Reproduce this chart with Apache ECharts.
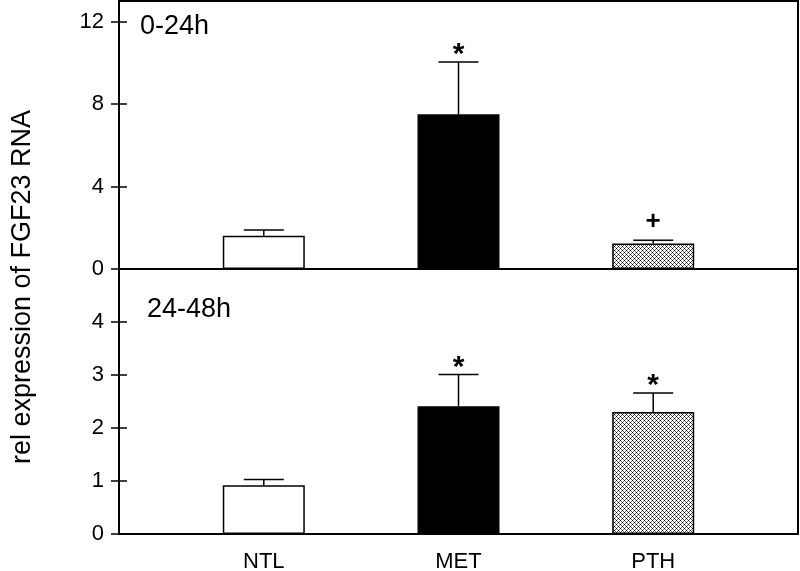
<!DOCTYPE html>
<html><head><meta charset="utf-8">
<script src="https://cdn.jsdelivr.net/npm/echarts@6/dist/echarts.min.js"></script>
<style>html,body{margin:0;padding:0;background:#fff}#c{width:800px;height:571px}</style>
</head><body><div id="c"></div>
<script>
const categories = ['NTL', 'MET', 'PTH'];
const topMeans = [1.61, 7.51, 1.24];
const topUpper = [1.89, 10.04, 1.40];
const topMarks = ['', '*', '+'];
const botMeans = [0.92, 2.41, 2.30];
const botUpper = [1.03, 3.01, 2.66];
const botMarks = ['', '*', '*'];
const topTicks = [0, 4, 8, 12];
const botTicks = [0, 1, 2, 3, 4];
const panelLabels = ['0-24h', '24-48h'];
const yTitle = 'rel expression of FGF23 RNA';

const FONT = 'Liberation Sans';

// cross-hatch pattern (4px period)
const pc = document.createElement('canvas');
pc.width = 4; pc.height = 4;
const g = pc.getContext('2d');
g.fillStyle = '#fff'; g.fillRect(0, 0, 4, 4);
g.fillStyle = '#6a6a6a';
[[1,1],[3,3],[3,1],[1,3]].forEach(p => g.fillRect(p[0], p[1], 1, 1));
g.fillStyle = '#000';
[[0,0],[2,2]].forEach(p => g.fillRect(p[0], p[1], 1, 1));
const fills = ['#ffffff', '#000000', { image: pc, repeat: 'repeat' }];

const XMIN = 0.2564, XMAX = 3.7436;

function barData(means) {
  return categories.map((c, i) => ({ value: [i + 1, means[i]], itemStyle: { color: fills[i] } }));
}
function errData(means, upper) {
  return categories.map((c, i) => [i + 1, means[i], upper[i]]);
}
function errRender(marks) {
  return function (params, api) {
    const i = params.dataIndex;
    const x = api.value(0);
    const p0 = api.coord([x, api.value(1)]);
    const p1 = api.coord([x, api.value(2)]);
    const half = 20;
    const ch = [
      { type: 'line', shape: { x1: p0[0], y1: p0[1], x2: p1[0], y2: p1[1] }, style: { stroke: '#000', lineWidth: 1.5 } },
      { type: 'line', shape: { x1: p1[0] - half, y1: p1[1], x2: p1[0] + half, y2: p1[1] }, style: { stroke: '#000', lineWidth: 1.5 } }
    ];
    if (marks[i]) {
      const isStar = marks[i] === '*';
      ch.push({ type: 'text', style: { text: marks[i], x: p1[0], y: p1[1] - (isStar ? 7 : 18), align: 'center', verticalAlign: 'middle',
        font: (isStar ? 'bold 30px ' : 'bold 26px ') + FONT, fill: '#000' } });
    }
    return { type: 'group', children: ch };
  };
}
function yAx(gi, max, ticks, withLabels) {
  return {
    type: 'value', gridIndex: gi, min: 0, max: max, position: 'left',
    axisLine: { show: false }, splitLine: { show: false },
    axisTick: { show: true, inside: !withLabels, length: 8, lineStyle: { color: '#000', width: 1.5 }, customValues: ticks },
    axisLabel: { show: withLabels, customValues: ticks, margin: 15, color: '#000', fontSize: 22, fontFamily: FONT }
  };
}
function xAx(gi, withLabels) {
  return {
    type: 'value', gridIndex: gi, min: XMIN, max: XMAX,
    axisLine: { show: false }, axisTick: { show: false }, splitLine: { show: false },
    axisLabel: { show: withLabels, customValues: [1, 2, 3], margin: 17, color: '#000', fontSize: 22, fontFamily: FONT,
      formatter: v => categories[Math.round(v) - 1] }
  };
}

const chart = echarts.init(document.getElementById('c'), null, { renderer: 'canvas' });
chart.setOption({
  animation: false,
  backgroundColor: '#fff',
  grid: [
    { left: 119, top: 1, width: 679, height: 268, show: true, borderColor: '#000', borderWidth: 2, backgroundColor: 'transparent', containLabel: false, outerBoundsMode: 'none' },
    { left: 119, top: 269, width: 679, height: 265, show: true, borderColor: '#000', borderWidth: 2, backgroundColor: 'transparent', containLabel: false, outerBoundsMode: 'none' }
  ],
  xAxis: [xAx(0, false), xAx(1, true)],
  yAxis: [yAx(0, 13, topTicks, true), yAx(0, 13, topTicks, false), yAx(1, 5, botTicks, true), yAx(1, 5, botTicks, false)],
  series: [
    { type: 'bar', xAxisIndex: 0, yAxisIndex: 0, barWidth: 82, data: barData(topMeans), itemStyle: { borderColor: '#000', borderWidth: 1.5 } },
    { type: 'custom', xAxisIndex: 0, yAxisIndex: 0, data: errData(topMeans, topUpper), renderItem: errRender(topMarks), z: 3 },
    { type: 'bar', xAxisIndex: 1, yAxisIndex: 2, barWidth: 82, data: barData(botMeans), itemStyle: { borderColor: '#000', borderWidth: 1.5 } },
    { type: 'custom', xAxisIndex: 1, yAxisIndex: 2, data: errData(botMeans, botUpper), renderItem: errRender(botMarks), z: 3 }
  ],
  graphic: [
    { type: 'text', x: 140, y: 27, style: { text: panelLabels[0], font: '27px ' + FONT, fill: '#000', align: 'left', verticalAlign: 'middle' } },
    { type: 'text', x: 147, y: 310, style: { text: panelLabels[1], font: '27px ' + FONT, fill: '#000', align: 'left', verticalAlign: 'middle' } },
    { type: 'text', x: 23, y: 287, rotation: Math.PI / 2, style: { text: yTitle, font: '27px ' + FONT, fill: '#000', align: 'center', verticalAlign: 'middle' } }
  ]
});
</script>
</body></html>
